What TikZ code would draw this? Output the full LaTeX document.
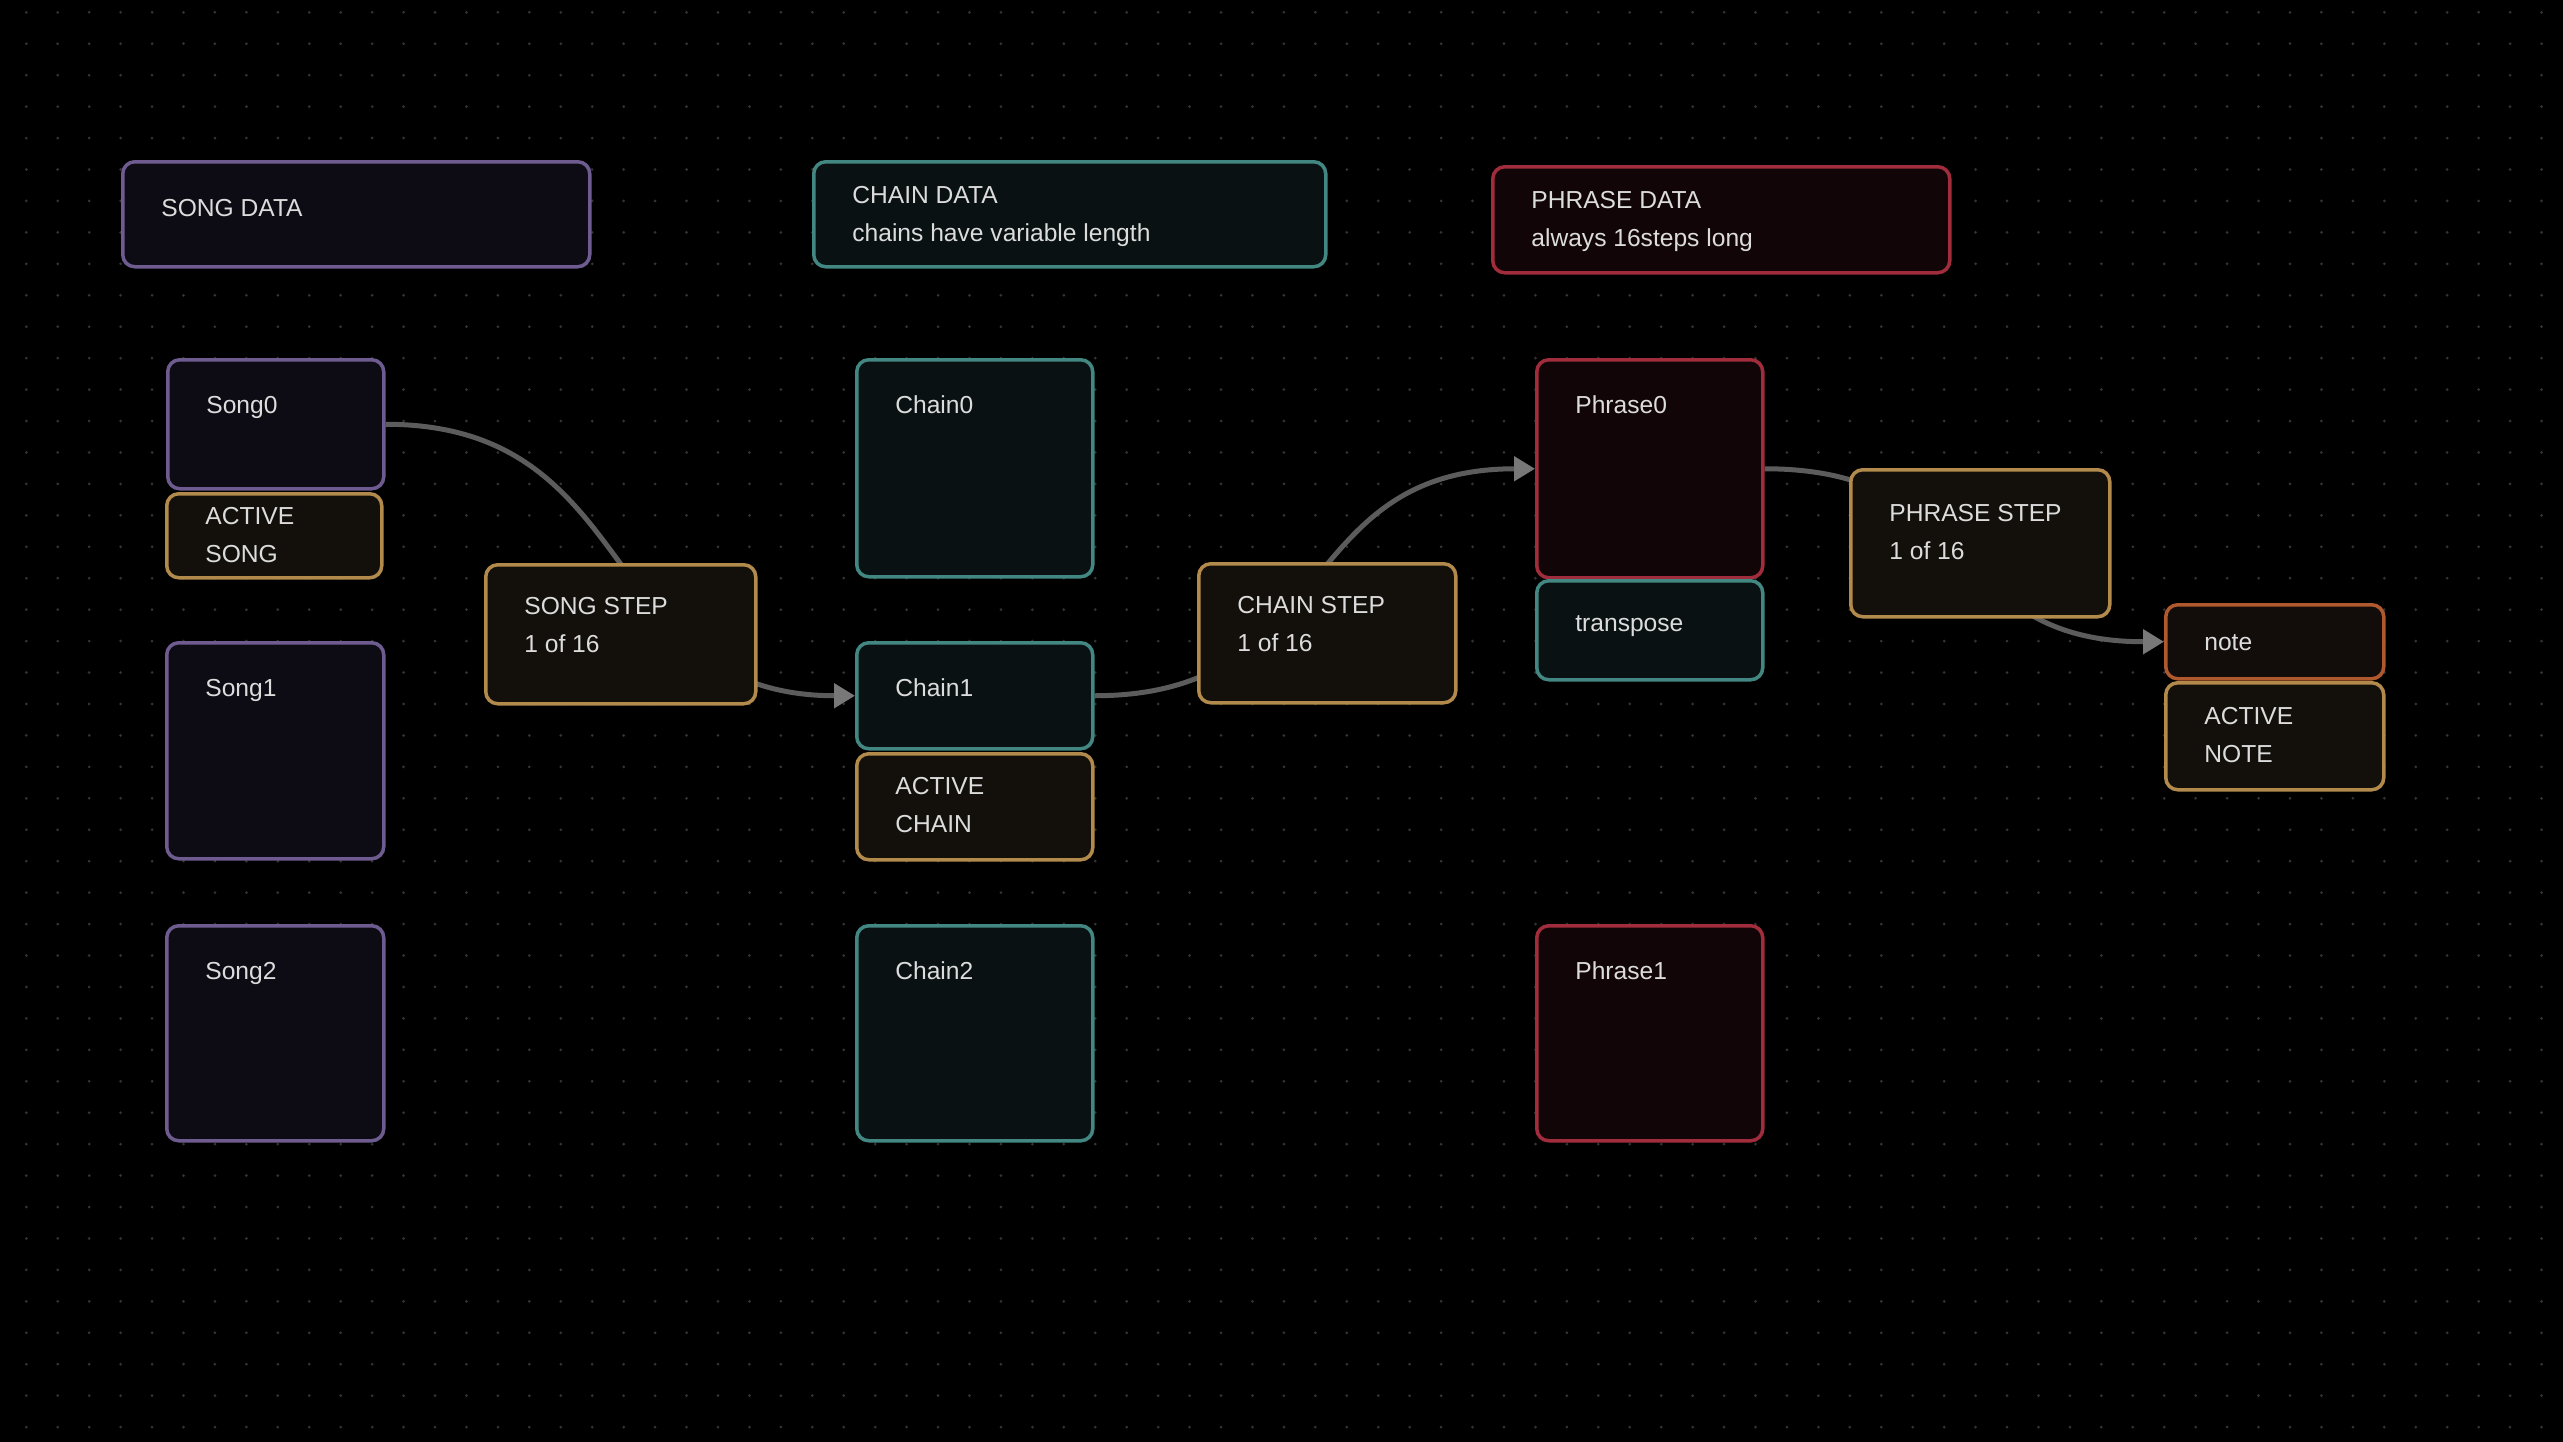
\documentclass[tikz,border=0pt]{standalone}
\usepackage{fontspec}
\setmainfont{Liberation Sans}
\usetikzlibrary{positioning,arrows.meta}
\pgfdeclarelayer{dots}
\pgfdeclarelayer{edges}
\pgfsetlayers{dots,edges,main}

\definecolor{dotcol}{RGB}{52,52,52}
\definecolor{songline}{RGB}{110,92,145}
\definecolor{songfill}{RGB}{13,12,20}
\definecolor{chainline}{RGB}{66,135,130}
\definecolor{chainfill}{RGB}{9,17,18}
\definecolor{phraseline}{RGB}{160,44,60}
\definecolor{phrasefill}{RGB}{18,5,8}
\definecolor{stepline}{RGB}{178,138,76}
\definecolor{stepfill}{RGB}{19,16,12}
\definecolor{noteline}{RGB}{176,88,46}
\definecolor{notefill}{RGB}{18,12,10}
\definecolor{edgecol}{RGB}{92,92,92}
\definecolor{tipcol}{RGB}{120,120,120}
\definecolor{txtcol}{RGB}{220,220,220}

\tikzset{
  card/.style={draw, rounded corners=2.4mm, line width=0.7mm, anchor=north west, inner sep=0pt},
  songcard/.style={card, draw=songline, fill=songfill},
  chaincard/.style={card, draw=chainline, fill=chainfill},
  phrasecard/.style={card, draw=phraseline, fill=phrasefill},
  stepcard/.style={card, draw=stepline, fill=stepfill},
  notecard/.style={card, draw=noteline, fill=notefill},
  lbl/.style={anchor=base west, xshift=8mm, yshift=#1, align=left, text=txtcol,
    inner sep=0pt, font=\fontsize{14}{21.4}\selectfont},
  lbl/.default=-11mm,
  link/.style={draw=edgecol, line width=1mm},
  linkarrow/.style={-{Triangle[length=4.2mm,width=4.8mm,color=tipcol]}}
}

\begin{document}
\begin{tikzpicture}[x=0.2mm, y=-0.2mm]
  \useasboundingbox (0,0) rectangle (2563,1442);
  \begin{pgfonlayer}{dots}
    \fill[black] (0,0) rectangle (2563,1442);
    \foreach \i in {0,...,80}
      \foreach \j in {0,...,45}
        \fill[dotcol] (26.3+31.44*\i, 12.3+31.44*\j) circle (0.3mm);
  \end{pgfonlayer}

  % header cards
  \node[songcard, minimum width=93.4mm, minimum height=21mm, label={[lbl=-11.2mm]north west:SONG DATA}] (songdata) at (121,160) {};
  \node[chaincard, minimum width=102.4mm, minimum height=21mm, label={[lbl=-16.3mm]north west:CHAIN DATA\\chains have variable length}] (chaindata) at (812,160) {};
  \node[phrasecard, minimum width=91.4mm, minimum height=21.2mm, label={[lbl=-16.3mm]north west:PHRASE DATA\\always 16steps long}] (phrasedata) at (1491,165) {};

  % songs
  \node[songcard, minimum width=43.2mm, minimum height=25.8mm, label={[lbl]north west:Song0}] (song0) at (166,358) {};
  \node[stepcard, minimum width=43mm, minimum height=16.8mm, label={[lbl=-14.1mm]north west:ACTIVE\\SONG}] (activesong) at (165,492) {};
  \node[songcard, minimum width=43.4mm, minimum height=43.2mm, label={[lbl]north west:Song1}] (song1) at (165,641) {};
  \node[songcard, minimum width=43.4mm, minimum height=43mm, label={[lbl]north west:Song2}] (song2) at (165,924) {};
  \node[stepcard, minimum width=54mm, minimum height=27.8mm, label={[lbl=-17.9mm]north west:SONG STEP\\1 of 16}] (songstep) at (484,563) {};

  % chains
  \node[chaincard, minimum width=47.2mm, minimum height=43.4mm, label={[lbl]north west:Chain0}] (chain0) at (855,358) {};
  \node[chaincard, minimum width=47.2mm, minimum height=21.2mm, label={[lbl]north west:Chain1}] (chain1) at (855,641) {};
  \node[stepcard, minimum width=47.2mm, minimum height=21.2mm, label={[lbl=-16.1mm]north west:ACTIVE\\CHAIN}] (activechain) at (855,752) {};
  \node[chaincard, minimum width=47.2mm, minimum height=43mm, label={[lbl]north west:Chain2}] (chain2) at (855,924) {};
  \node[stepcard, minimum width=51.4mm, minimum height=27.8mm, label={[lbl=-17.9mm]north west:CHAIN STEP\\1 of 16}] (chainstep) at (1197,562) {};

  % phrases
  \node[phrasecard, minimum width=45.2mm, minimum height=43.6mm, label={[lbl]north west:Phrase0}] (phrase0) at (1535,358) {};
  \node[chaincard, minimum width=45.2mm, minimum height=19.8mm, label={[lbl=-10.5mm]north west:transpose}] (transpose) at (1535,579) {};
  \node[phrasecard, minimum width=45.2mm, minimum height=43mm, label={[lbl]north west:Phrase1}] (phrase1) at (1535,924) {};
  \node[stepcard, minimum width=51.8mm, minimum height=29.4mm, label={[lbl=-18.3mm]north west:PHRASE STEP\\1 of 16}] (phrasestep) at (1849,468) {};

  % notes
  \node[notecard, minimum width=43.6mm, minimum height=14.8mm, label={[lbl=-9.4mm]north west:note}] (note) at (2164,603) {};
  \node[stepcard, minimum width=43.6mm, minimum height=21.4mm, label={[lbl=-16.3mm]north west:ACTIVE\\NOTE}] (activenote) at (2164,681) {};

  % links run behind the step cards
  \begin{pgfonlayer}{edges}
    \draw[link, linkarrow] (song0.east) .. controls +(52mm,0) and +(-52mm,0) .. (chain1.west);
    \draw[link, linkarrow] (chain1.east) .. controls +(48.8mm,0) and +(-48.8mm,0) .. (phrase0.west);
    \draw[link, linkarrow] (phrase0.east) .. controls +(44.4mm,0) and +(-44.4mm,0) .. (note.west);
  \end{pgfonlayer}
\end{tikzpicture}
\end{document}
